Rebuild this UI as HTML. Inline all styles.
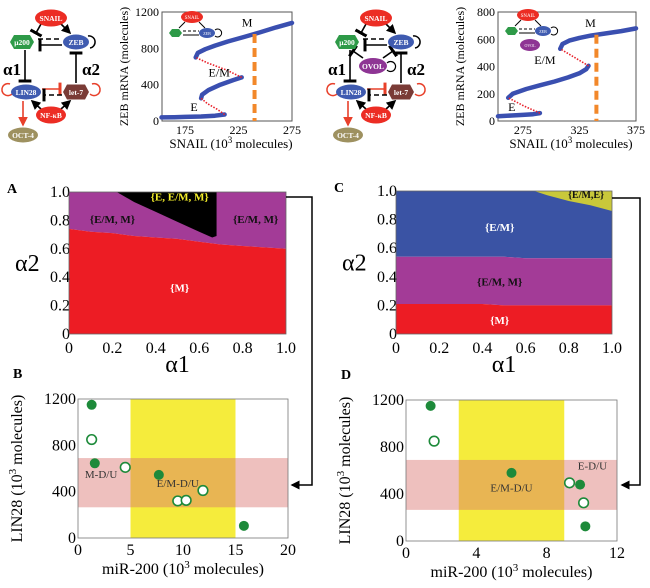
<!DOCTYPE html>
<html><head><meta charset="utf-8"><style>
html,body{margin:0;padding:0;background:#fff;width:650px;height:588px;overflow:hidden;font-family:"Liberation Serif","Times New Roman",Times,"DejaVu Serif",serif}
svg{display:block}
text{font-family:"Liberation Serif","Times New Roman",Times,"DejaVu Serif",serif}
</style></head><body>
<svg id="fig" width="650" height="588" viewBox="0 0 650 588">
<defs>
<marker id="ab" markerWidth="6" markerHeight="6" refX="5" refY="3" orient="auto"><path d="M0,0L6,3L0,6z" fill="#000"/></marker>
<marker id="ar" markerWidth="6" markerHeight="6" refX="5" refY="3" orient="auto"><path d="M0,0L6,3L0,6z" fill="#e8402a"/></marker>
<marker id="tb" markerWidth="2" markerHeight="8" refX="1" refY="4" orient="auto"><rect x="0" y="0" width="2" height="8" fill="#000"/></marker>
<marker id="tr" markerWidth="2" markerHeight="8" refX="1" refY="4" orient="auto"><rect x="0" y="0" width="2" height="8" fill="#e8402a"/></marker>
</defs>
<g id="net1"></g>
<g id="net2"></g>
<g id="bif1"></g>
<g id="bif2"></g>
<g id="panA"></g>
<g id="panC"></g>
<g id="panB"></g>
<g id="panD"></g>
<g id="conn"></g>
</svg>
<script>
// ---------- data ----------
const bif1E=[[153,40],[165,42],[175,45],[190,50],[203,58],[212,72]];
const bif1U1=[[212,72],[205,130],[196,190],[190,250]];
const bif1EM=[[190,250],[191,290],[197,340],[208,400],[220,450],[228,480]];
const bif1U2=[[228,480],[214,560],[196,640],[185,700]];
const bif1M=[[185,700],[187,750],[194,790],[203,830],[215,875],[230,925],[245,975],[260,1030],[275,1080]];
const bif1Snail=240;
const bif1XTicks=[175,225,275];
const bif1YTicks=[0,400,800,1200];
const bif2E=[[253,35],[265,40],[275,45],[284,50],[290,58]];
const bif2U1=[[290,58],[276,110],[262,170]];
const bif2EM=[[262,170],[266,200],[278,235],[290,262],[303,290],[315,320],[325,350],[331,380],[333,405]];
const bif2U2=[[333,405],[320,470],[308,530]];
const bif2M=[[308,530],[310,565],[316,590],[325,610],[335,627],[350,645],[362,660],[375,680]];
const bif2Snail=340;
const bif2XTicks=[275,325,375];
const bif2YTicks=[0,200,400,600,800];
const alpha1=[0,0.1,0.2,0.3,0.4,0.5,0.6,0.7,0.8,0.9,1.0];
const aRedTop=[0.74,0.72,0.71,0.69,0.68,0.67,0.65,0.63,0.62,0.61,0.60];
const aBlackA1=[0.22,0.3,0.4,0.5,0.6,0.66,0.68];
const aBlackBottom=[1.0,0.93,0.86,0.79,0.72,0.68,0.69];
const cRedTop=[0.21,0.21,0.21,0.21,0.21,0.2,0.2,0.2,0.2,0.2,0.2];
const cPurpleTop=[0.54,0.54,0.54,0.54,0.54,0.54,0.53,0.53,0.53,0.53,0.53];
const cYellowA1=[0.64,0.7,0.8,0.9,1.0];
const cYellowBottom=[1.0,0.97,0.93,0.9,0.86];
const phaseTicks=[0,0.2,0.4,0.6,0.8,1.0];
const phaseTickLabels=["0","0.2","0.4","0.6","0.8","1.0"];
const bFilledX=[1.3,1.6,7.7,15.8], bFilledY=[1150,645,545,105];
const bOpenX=[1.3,4.5,9.5,10.3,11.9], bOpenY=[850,610,320,325,410];
const bXTicks=[0,5,10,15,20];
const bYellow=[5,15];
const dFilledX=[1.4,6.0,9.9,10.2], dFilledY=[1150,580,480,125];
const dOpenX=[1.6,9.3,10.1], dOpenY=[850,495,325];
const dXTicks=[0,4,8,12];
const dYellow=[3,9];
const pinkBand=[265,690];
const scatterYTicks=[0,400,800,1200];

// ---------- helpers ----------
const NS="http://www.w3.org/2000/svg";
function mk(parent,tag,attrs,text){const e=document.createElementNS(NS,tag);for(const k in attrs)e.setAttribute(k,attrs[k]);if(tag==='text'){e.setAttribute('font-family','Liberation Serif, Times New Roman, Times, DejaVu Serif, serif');}if(text!==undefined)e.textContent=text;parent.appendChild(e);return e;}
function lin(d0,d1,r0,r1){return v=>r0+(v-d0)/(d1-d0)*(r1-r0);}

// ---------- networks ----------
function node(g,x,y,w,h,fill,label,hex,name){
  let e;
  if(hex){const hw=w/2,hh=h/2;e=mk(g,'polygon',{points:`${x-hw},${y} ${x-hw+4},${y-hh} ${x+hw-4},${y-hh} ${x+hw},${y} ${x+hw-4},${y+hh} ${x-hw+4},${y+hh}`,fill:fill});}
  else e=mk(g,'ellipse',{cx:x,cy:y,rx:w/2,ry:h/2,fill:fill});
  
  
  const t=mk(g,'text',{x:x,y:y+3,'font-size':7.5,'font-weight':'bold',fill:'#fff','text-anchor':'middle'},label);
  
  
}
function ln(g,x1,y1,x2,y2,col,mark,dash){const a={x1,y1,x2,y2,stroke:col,'stroke-width':1.6};if(mark)a['marker-end']=`url(#${mark})`;if(dash)a['stroke-dasharray']=dash;mk(g,'line',a);}
function net(g,ox,ovol){
  const S=[ox+51,18],U=[ox+22,42],Z=[ox+76,42],L=[ox+26,92],T=[ox+76,92],N=[ox+51,115],O=[ox+23,135];
  ln(g,S[0]-10,S[1]+6,U[0]+14,U[1]-9,'#000','tb');
  ln(g,S[0]+10,S[1]+6,Z[0]-6,Z[1]-9,'#000','ab');
  ln(g,U[0]+16,U[1]-3,Z[0]-14,Z[1]-3,'#000',null,'5,3');
  ln(g,Z[0]-14,Z[1]+3,U[0]+18,U[1]+3,'#000','tb');
  ln(g,U[0]+3,U[1]+8,L[0]-1,L[1]-11,'#000','tb');
  ln(g,T[0],T[1]-9,Z[0],Z[1]+11,'#000','tb');
  ln(g,L[0]+16,L[1]-3,T[0]-16,T[1]-3,'#e8402a','tr');
  ln(g,T[0]-14,T[1]+3,L[0]+18,L[1]+3,'#000','tb','5,3');
  ln(g,N[0]-10,N[1]-6,L[0]+6,L[1]+9,'#000','ab');
  ln(g,N[0]+10,N[1]-6,T[0]-6,T[1]+9,'#000','ab');
  ln(g,L[0]-3,L[1]+9,O[0],O[1]-10,'#e8402a','ar');
  mk(g,'path',{d:`M${Z[0]+12},${Z[1]-6} a6,6 0 1,1 2,12`,fill:'none',stroke:'#000','stroke-width':1.5});
  mk(g,'path',{d:`M${L[0]-14},${L[1]+2} a6,6 0 1,1 -2,-10`,fill:'none',stroke:'#e8402a','stroke-width':1.5});
  mk(g,'path',{d:`M${T[0]+14},${T[1]+2} a6,6 0 1,0 2,-10`,fill:'none',stroke:'#e8402a','stroke-width':1.5});
  if(ovol){
    const V=[ox+48,66];
    ln(g,V[0]-10,V[1]-8,U[0]+6,U[1]+9,'#000','tb');
    ln(g,V[0]+10,V[1]-8,Z[0]-8,Z[1]+9,'#000','tb');
    mk(g,'path',{d:`M${V[0]+14},${V[1]-3} a5,5 0 1,1 0,7`,fill:'none',stroke:'#000','stroke-width':1.2});
    node(g,V[0],V[1],28,16,'#8e3594','OVOL',false,'ovol-node');
  }
  node(g,S[0],S[1],32,17,'#ec2d24','SNAIL',false,'snail-node');
  node(g,U[0],U[1],24,14,'#2e9a48','μ200',true,'mir200-node');
  node(g,Z[0],Z[1],26,15,'#3f5bb0','ZEB',false,'zeb-node');
  node(g,L[0],L[1],30,15,'#3f5bb0','LIN28',false,'lin28-node');
  node(g,T[0],T[1],26,15,'#7a3b36','let-7',true,'let7-node');
  node(g,N[0],N[1],30,17,'#ec2d24','NF-κB',false,'nfkb-node');
  node(g,O[0],O[1],30,15,'#9e9160','OCT-4',false,'oct4-node');
  mk(g,'text',{x:ox+3,y:75,'font-size':17,'font-weight':'bold'},'α1');
  mk(g,'text',{x:ox+82,y:75,'font-size':17,'font-weight':'bold'},'α2');
}
net(document.getElementById('net1'),0,false);
net(document.getElementById('net2'),325,true);

// ---------- bifurcation ----------
function bif(g,L,R,T,B,xd,yd,E,U1,EM,U2,M,sn,xt,yt,labs,inset){
  const sx=lin(xd[0],xd[1],L,R),sy=lin(yd[0],yd[1],B,T);
  const pth=a=>{let d='';a.forEach((p,i)=>{d+=(i?'L':'M')+sx(p[0]).toFixed(1)+','+sy(p[1]).toFixed(1);});return d;};
  mk(g,'rect',{x:L,y:T,width:R-L,height:B-T,fill:'#fff',stroke:'#555','stroke-width':1});
  [E,EM,M].forEach(a=>{const p=mk(g,'path',{d:pth(a),fill:'none',stroke:'#3a4fb0','stroke-width':4.5,'stroke-linecap':'round','stroke-linejoin':'round'});
    
    });
  [U1,U2].forEach(a=>{const p=mk(g,'path',{d:pth(a),fill:'none',stroke:'#e8202a','stroke-width':1.6,'stroke-dasharray':'1.5,1.5'});
    
    });
  let topY=M[0][1];for(let i=1;i<M.length;i++){if(M[i][0]>=sn){const a=M[i-1],b=M[i];topY=a[1]+(sn-a[0])/(b[0]-a[0])*(b[1]-a[1]);break;}}
  const o=mk(g,'line',{x1:sx(sn),x2:sx(sn),y1:sy(topY),y2:B,stroke:'#f2882a','stroke-width':4,'stroke-dasharray':'9,5'});
  
  
  xt.forEach(v=>{mk(g,'text',{x:sx(v),y:B+13,'font-size':12,'text-anchor':'middle'},String(v));});
  yt.forEach(v=>{mk(g,'text',{x:L-3,y:sy(v)+4,'font-size':12,'text-anchor':'end'},String(v));});
  const xl=mk(g,'text',{x:(L+R)/2+4,y:B+27,'font-size':13,'text-anchor':'middle'},'SNAIL (10');
  const s1=document.createElementNS(NS,'tspan');s1.setAttribute('dy','-5');s1.setAttribute('font-size','9');s1.textContent='3';xl.appendChild(s1);
  const s2=document.createElementNS(NS,'tspan');s2.setAttribute('dy','5');s2.textContent=' molecules)';xl.appendChild(s2);
  mk(g,'text',{x:L-34,y:(T+B)/2,'font-size':12,'text-anchor':'middle',transform:`rotate(-90 ${L-34} ${(T+B)/2})`},'ZEB mRNA (molecules)');
  labs.forEach(l=>mk(g,'text',{x:sx(l[1]),y:sy(l[2]),'font-size':12},l[0]));
  const [ix,iy,ov]=inset;
  mk(g,'ellipse',{cx:ix+23,cy:iy,rx:11,ry:6,fill:'#ec2d24'});mk(g,'text',{x:ix+23,y:iy+2,'font-size':5,fill:'#fff','text-anchor':'middle'},'SNAIL');
  mk(g,'line',{x1:ix+16,y1:iy+5,x2:ix+10,y2:iy+11,stroke:'#000'});
  mk(g,'line',{x1:ix+30,y1:iy+5,x2:ix+36,y2:iy+11,stroke:'#000'});
  mk(g,'polygon',{points:`${ix},${iy+16} ${ix+3},${iy+12} ${ix+10},${iy+12} ${ix+13},${iy+16} ${ix+10},${iy+20} ${ix+3},${iy+20}`,fill:'#2e9a48'});
  mk(g,'ellipse',{cx:ix+38,cy:iy+16,rx:8,ry:5,fill:'#3f5bb0'});mk(g,'text',{x:ix+38,y:iy+18,'font-size':4,fill:'#fff','text-anchor':'middle'},'ZEB');
  mk(g,'line',{x1:ix+14,y1:iy+14,x2:ix+30,y2:iy+14,stroke:'#000','stroke-dasharray':'3,2'});
  mk(g,'line',{x1:ix+14,y1:iy+18,x2:ix+30,y2:iy+18,stroke:'#000'});
  mk(g,'path',{d:`M${ix+46},${iy+13} a4,4 0 1,1 0,6`,fill:'none',stroke:'#000'});
  if(ov){mk(g,'ellipse',{cx:ix+25,cy:iy+30,rx:10,ry:6,fill:'#8e3594'});mk(g,'text',{x:ix+25,y:iy+32,'font-size':4,fill:'#fff','text-anchor':'middle'},'OVOL');}
}
bif(document.getElementById('bif1'),162,292,12,121,[153.5,275],[0,1200],bif1E,bif1U1,bif1EM,bif1U2,bif1M,bif1Snail,bif1XTicks,bif1YTicks,[['M',228,1040],['E/M',197,490],['E',180,110]],[169,17,false]);
bif(document.getElementById('bif2'),498,636,12,121,[253,375],[0,800],bif2E,bif2U1,bif2EM,bif2U2,bif2M,bif2Snail,bif2XTicks,bif2YTicks,[['M',330,690],['E/M',285,420],['E',262,75]],[505,15,true]);

// ---------- phase diagrams ----------
function axesPhase(g,L,R,T,B,letter){
  const sx=lin(0,1,L,R),sy=lin(0,1,B,T);
  phaseTicks.forEach((v,i)=>{
    mk(g,'text',{x:sx(v),y:B+19,'font-size':16,'text-anchor':'middle'},phaseTickLabels[i]);
    mk(g,'text',{x:L+1,y:sy(v)+5,'font-size':16,'text-anchor':'end'},phaseTickLabels[i]);
  });
  mk(g,'text',{x:(L+R)/2,y:B+38,'font-size':24,'text-anchor':'middle'},'α1');
  mk(g,'text',{x:L-54,y:(T+B)/2+8,'font-size':24},'α2');
  mk(g,'text',{x:L-62,y:T+1,'font-size':14,'font-weight':'bold'},letter);
  mk(g,'rect',{x:L,y:T,width:R-L,height:B-T,fill:'none',stroke:'#666','stroke-width':0.8});
  return [sx,sy];
}
function areaPoly(g,sx,sy,xs,lo,hi,fill,name){
  let pts=xs.map((x,i)=>sx(x)+','+sy(hi[i]));
  for(let i=xs.length-1;i>=0;i--)pts.push(sx(xs[i])+','+sy(lo[i]));
  const p=mk(g,'polygon',{points:pts.join(' '),fill:fill});
  
  
}
(function(){
  const g=document.getElementById('panA');const L=69,R=286,T=192,B=334;
  const sx=lin(0,1,L,R),sy=lin(0,1,B,T);
  const ones=alpha1.map(()=>1),zeros=alpha1.map(()=>0);
  areaPoly(g,sx,sy,alpha1,aRedTop,ones,'#a33b97','region-em-m');
  areaPoly(g,sx,sy,alpha1,zeros,aRedTop,'#ed1c24','region-m');
  areaPoly(g,sx,sy,aBlackA1,aBlackBottom,aBlackA1.map(()=>1),'#000','region-e-em-m');
  axesPhase(g,L,R,T,B,'A');
  mk(g,'text',{x:sx(0.51),y:sy(0.94),'font-size':11,'font-weight':'bold',fill:'#f5ef2a','text-anchor':'middle'},'{E, E/M, M}');
  mk(g,'text',{x:sx(0.2),y:sy(0.78),'font-size':11,'font-weight':'bold',fill:'#111','text-anchor':'middle'},'{E/M, M}');
  mk(g,'text',{x:sx(0.86),y:sy(0.78),'font-size':11,'font-weight':'bold',fill:'#111','text-anchor':'middle'},'{E/M, M}');
  mk(g,'text',{x:sx(0.51),y:sy(0.3),'font-size':11,'font-weight':'bold',fill:'#fff','text-anchor':'middle'},'{M}');
})();
(function(){
  const g=document.getElementById('panC');const L=396,R=612,T=191,B=334;
  const sx=lin(0,1,L,R),sy=lin(0,1,B,T);
  const ones=alpha1.map(()=>1),zeros=alpha1.map(()=>0);
  areaPoly(g,sx,sy,alpha1,cPurpleTop,ones,'#3a53a4','region-em');
  areaPoly(g,sx,sy,alpha1,cRedTop,cPurpleTop,'#a33b97','region-em-m');
  areaPoly(g,sx,sy,alpha1,zeros,cRedTop,'#ed1c24','region-m');
  areaPoly(g,sx,sy,cYellowA1,cYellowBottom,cYellowA1.map(()=>1),'#c9c83a','region-em-e');
  axesPhase(g,L,R,T,B,'C');
  mk(g,'text',{x:sx(0.88),y:sy(0.95),'font-size':10,'font-weight':'bold',fill:'#111','text-anchor':'middle'},'{E/M,E}');
  mk(g,'text',{x:sx(0.48),y:sy(0.72),'font-size':11,'font-weight':'bold',fill:'#fff','text-anchor':'middle'},'{E/M}');
  mk(g,'text',{x:sx(0.48),y:sy(0.34),'font-size':11,'font-weight':'bold',fill:'#111','text-anchor':'middle'},'{E/M, M}');
  mk(g,'text',{x:sx(0.48),y:sy(0.07),'font-size':11,'font-weight':'bold',fill:'#fff','text-anchor':'middle'},'{M}');
})();

// ---------- scatters ----------
function scatter(g,L,R,T,B,xmax,xt,yel,fx,fy,ox,oy,labels,letter){
  const sx=lin(0,xmax,L,R),sy=lin(0,1200,B,T);
  const y=mk(g,'rect',{x:sx(yel[0]),y:T,width:sx(yel[1])-sx(yel[0]),height:B-T,fill:'#f5ec3c'});
  
  
  const p=mk(g,'rect',{x:L,y:sy(pinkBand[1]),width:R-L,height:sy(pinkBand[0])-sy(pinkBand[1]),fill:'#d9736f','fill-opacity':0.45});
  
  
  mk(g,'rect',{x:L,y:T,width:R-L,height:B-T,fill:'none',stroke:'#777','stroke-width':0.8});
  fx.forEach((v,i)=>{const c=mk(g,'circle',{cx:sx(v),cy:sy(fy[i]),r:5,fill:'#1d8a3a'});
    
    });
  ox.forEach((v,i)=>{const c=mk(g,'circle',{cx:sx(v),cy:sy(oy[i]),r:4.8,fill:'#fff',stroke:'#1d8a3a','stroke-width':1.6});
    
    });
  labels.forEach(l=>mk(g,'text',{x:sx(l[1]),y:sy(l[2]),'font-size':11,fill:'#333','text-anchor':'middle'},l[0]));
  xt.forEach(v=>mk(g,'text',{x:sx(v),y:B+17,'font-size':16,'text-anchor':'middle'},String(v)));
  scatterYTicks.forEach(v=>mk(g,'text',{x:L-2,y:sy(v)+5,'font-size':16,'text-anchor':'end'},String(v)));
  const xl=mk(g,'text',{x:(L+R)/2,y:B+36,'font-size':16,'text-anchor':'middle'},'miR-200 (10');
  const s1=document.createElementNS(NS,'tspan');s1.setAttribute('dy','-6');s1.setAttribute('font-size','11');s1.textContent='3';xl.appendChild(s1);
  const s2=document.createElementNS(NS,'tspan');s2.setAttribute('dy','6');s2.textContent=' molecules)';xl.appendChild(s2);
  const cx=L-56,cy=(T+B)/2;
  const yl=mk(g,'text',{x:cx,y:cy,'font-size':16,'text-anchor':'middle',transform:`rotate(-90 ${cx} ${cy})`},'LIN28 (10');
  const s3=document.createElementNS(NS,'tspan');s3.setAttribute('dy','-6');s3.setAttribute('font-size','11');s3.textContent='3';yl.appendChild(s3);
  const s4=document.createElementNS(NS,'tspan');s4.setAttribute('dy','6');s4.textContent=' molecules)';yl.appendChild(s4);
  mk(g,'text',{x:L-65,y:T-21,'font-size':14,'font-weight':'bold'},letter);
}
scatter(document.getElementById('panB'),78,288,399,538,20,bXTicks,bYellow,bFilledX,bFilledY,bOpenX,bOpenY,[['M-D/U',2.2,520],['E/M-D/U',9.5,440]],'B');
scatter(document.getElementById('panD'),406,617,400,541,12,dXTicks,dYellow,dFilledX,dFilledY,dOpenX,dOpenY,[['E/M-D/U',6,420],['E-D/U',10.6,610]],'D');

// ---------- connectors ----------
const cg=document.getElementById('conn');
mk(cg,'polyline',{points:'286,197 312,197 312,485 292,485',fill:'none',stroke:'#000','stroke-width':1.5,'marker-end':'url(#ab)'});
mk(cg,'polyline',{points:'612,198 640,198 640,485 622,485',fill:'none',stroke:'#000','stroke-width':1.5,'marker-end':'url(#ab)'});
</script>
</body></html>
